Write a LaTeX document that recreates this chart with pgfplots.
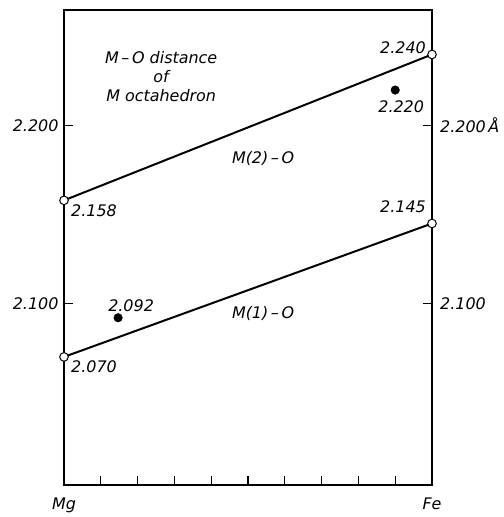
\documentclass[border=0pt]{standalone}
\usepackage{pgfplots}
\pgfplotsset{compat=1.18}
\usepackage{fontspec}
\setmainfont{DejaVu Sans}
\begin{document}
\begin{tikzpicture}[x=1bp,y=1bp]
\useasboundingbox (0,0) rectangle (504,517);
\begin{axis}[
  at={(64bp,32bp)}, anchor=south west,
  scale only axis, width=368bp, height=475bp,
  xmin=0, xmax=1, ymin=1.998, ymax=2.265,
  clip=false,
  axis line style={line width=1.2pt},
  every tick/.style={line width=1.1pt, black},
  tick align=inside,
  xtick={0,0.1,0.2,0.3,0.4,0.5,0.6,0.7,0.8,0.9,1},
  xticklabels={Mg,,,,,,,,,,Fe},
  xtick pos=lower,
  x tick label style={yshift=-9bp},
  ytick={2.1,2.2},
  yticklabels={2.100,2.200},
  ytick pos=both,
  yticklabel pos=left,
  yticklabel style={xshift=-2bp},
  major tick length=9bp,
  /pgf/number format/assume math mode=true,
  tick label style={font=\itshape\fontsize{16}{16}\selectfont},
]
\addplot[black, line width=2pt, mark=*, mark size=4.3bp,
  mark options={fill=white, line width=1pt}] coordinates {(0,2.158) (1,2.240)};
\addplot[black, line width=2pt, mark=*, mark size=4.3bp,
  mark options={fill=white, line width=1pt}] coordinates {(0,2.070) (1,2.145)};
\addplot[black, only marks, mark=*, mark size=4.3bp] coordinates {(0.147,2.092) (0.9,2.220)};

\begin{scope}[every node/.style={font=\itshape\fontsize{16}{16}\selectfont, inner sep=0pt}]
\node[anchor=north west] at ([xshift=7bp,yshift=-4bp]axis cs:0,2.158) {2.158};
\node[anchor=north west] at ([xshift=7bp,yshift=-4bp]axis cs:0,2.070) {2.070};
\node[anchor=south east] at ([xshift=-6bp,yshift=1bp]axis cs:1,2.240) {2.240};
\node[anchor=south east] at ([xshift=-6bp,yshift=11bp]axis cs:1,2.145) {2.145};
\node[anchor=south] at ([xshift=13bp,yshift=6bp]axis cs:0.147,2.092) {2.092};
\node[anchor=north] at ([xshift=6bp,yshift=-10bp]axis cs:0.9,2.220) {2.220};
\node[anchor=west] at ([xshift=8bp]axis cs:1,2.2) {2.200\,Å};
\node[anchor=west] at ([xshift=8bp]axis cs:1,2.1) {2.100};
\node[align=center, font=\itshape\fontsize{16}{19}\selectfont] at (axis cs:0.264,2.2275) {M\,–\,O distance\\of\\M octahedron};
\node at (axis cs:0.541,2.1815) {M(2)\,–\,O};
\node at (axis cs:0.541,2.0944) {M(1)\,–\,O};
\end{scope}
\end{axis}
\end{tikzpicture}
\end{document}
